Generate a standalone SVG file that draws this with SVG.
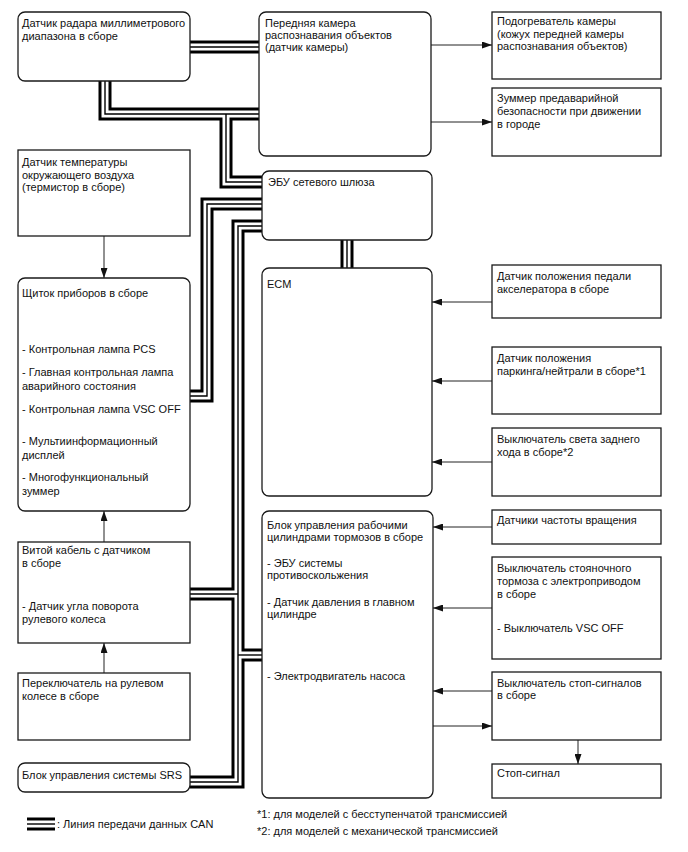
<svg xmlns="http://www.w3.org/2000/svg" xmlns:xlink="http://www.w3.org/1999/xlink" width="688" height="852" viewBox="0 0 688 852">
<style>
.box{fill:#fff;stroke:#1a1a1a;stroke-width:1.3}
.t{font-family:"Liberation Sans",Arial,sans-serif;font-size:11px;fill:#111}
.co{fill:none;stroke:#000;stroke-width:13;stroke-linejoin:miter}
.cw{fill:none;stroke:#fff;stroke-width:7;stroke-linejoin:miter}
.ci{fill:none;stroke:#000;stroke-width:1.4;stroke-linejoin:miter}
.arr{fill:none;stroke:#222;stroke-width:1;marker-end:url(#ah)}
</style>
<defs>
<marker id="ah" markerUnits="userSpaceOnUse" markerWidth="10" markerHeight="7" refX="10" refY="3.5" orient="auto">
<path d="M0,0 L10,3.5 L0,7 z" fill="#111"/>
</marker>
<path id="b1" d="M190,47 H259"/>
<path id="b2" d="M105,81 V114 H259"/>
<path id="b3" d="M226,114 V182 H262"/>
<path id="b4" d="M262,204 H207 V396 H190"/>
<path id="b5" d="M262,226 H238 V782 H190"/>
<path id="b6" d="M238,594 H190"/>
<path id="b7" d="M238,655 H262"/>
<path id="b8" d="M347,240 V268"/>
<path id="b9" d="M27,824 H55"/>
</defs>

<g id="connectors">
<g class="co">
<use xlink:href="#b1"/><use xlink:href="#b2"/><use xlink:href="#b3"/><use xlink:href="#b4"/><use xlink:href="#b5"/><use xlink:href="#b6"/><use xlink:href="#b7"/><use xlink:href="#b8"/><use xlink:href="#b9"/>
</g>
<g class="cw">
<use xlink:href="#b1"/><use xlink:href="#b2"/><use xlink:href="#b3"/><use xlink:href="#b4"/><use xlink:href="#b5"/><use xlink:href="#b6"/><use xlink:href="#b7"/><use xlink:href="#b8"/><use xlink:href="#b9"/>
</g>
<g class="ci">
<use xlink:href="#b1"/><use xlink:href="#b2"/><use xlink:href="#b3"/><use xlink:href="#b4"/><use xlink:href="#b5"/><use xlink:href="#b6"/><use xlink:href="#b7"/><use xlink:href="#b8"/><use xlink:href="#b9"/>
</g>
<path class="arr" d="M431,45 H492"/>
<path class="arr" d="M431,122 H492"/>
<path class="arr" d="M492,302 H432"/>
<path class="arr" d="M492,381 H432"/>
<path class="arr" d="M492,462 H432"/>
<path class="arr" d="M492,527 H433"/>
<path class="arr" d="M492,608 H433"/>
<path class="arr" d="M492,691 H433"/>
<path class="arr" d="M433,726 H492"/>
<path class="arr" d="M578,740 V764"/>
<path class="arr" d="M104,236 V278"/>
<path class="arr" d="M104,542 V511"/>
<path class="arr" d="M104,673 V643"/>
</g>

<g id="radar">
<rect class="box" x="18" y="12" width="172" height="69" rx="7"/>
<text class="t" x="22" y="27">Датчик радара миллиметрового</text>
<text class="t" x="22" y="40">диапазона в сборе</text>
</g>
<g id="temp">
<rect class="box" x="18" y="150" width="172" height="86"/>
<text class="t" x="22" y="166">Датчик температуры</text>
<text class="t" x="22" y="178.5">окружающего воздуха</text>
<text class="t" x="22" y="191">(термистор в сборе)</text>
</g>
<g id="cluster">
<rect class="box" x="18" y="278" width="172" height="233" rx="7"/>
<text class="t" x="22" y="297">Щиток приборов в сборе</text>
<text class="t" x="22" y="353">- Контрольная лампа PCS</text>
<text class="t" x="22" y="376">- Главная контрольная лампа</text>
<text class="t" x="22" y="390">аварийного состояния</text>
<text class="t" x="22" y="413">- Контрольная лампа VSC OFF</text>
<text class="t" x="22" y="445">- Мультиинформационный</text>
<text class="t" x="22" y="459">дисплей</text>
<text class="t" x="22" y="481">- Многофункциональный</text>
<text class="t" x="22" y="495">зуммер</text>
</g>
<g id="spiral">
<rect class="box" x="18" y="542" width="172" height="101"/>
<text class="t" x="22" y="554">Витой кабель с датчиком</text>
<text class="t" x="22" y="567">в сборе</text>
<text class="t" x="22" y="610">- Датчик угла поворота</text>
<text class="t" x="22" y="623">рулевого колеса</text>
</g>
<g id="steering">
<rect class="box" x="18" y="673" width="172" height="67"/>
<text class="t" x="22" y="687">Переключатель на рулевом</text>
<text class="t" x="22" y="700">колесе в сборе</text>
</g>
<g id="srs">
<rect class="box" x="18" y="763" width="172" height="29" rx="7"/>
<text class="t" x="22" y="779">Блок управления системы SRS</text>
</g>

<g id="camera">
<rect class="box" x="259" y="12" width="172" height="144" rx="7"/>
<text class="t" x="265" y="27">Передняя камера</text>
<text class="t" x="265" y="39">распознавания объектов</text>
<text class="t" x="265" y="51">(датчик камеры)</text>
</g>
<g id="gateway">
<rect class="box" x="262" y="171" width="170" height="69" rx="7"/>
<text class="t" x="268" y="186">ЭБУ сетевого шлюза</text>
</g>
<g id="ecm">
<rect class="box" x="262" y="268" width="170" height="228" rx="7"/>
<text class="t" x="267" y="288">ECM</text>
</g>
<g id="brake">
<rect class="box" x="262" y="511" width="171" height="287" rx="7"/>
<text class="t" x="267" y="529">Блок управления рабочими</text>
<text class="t" x="267" y="541">цилиндрами тормозов в сборе</text>
<text class="t" x="267" y="567">- ЭБУ системы</text>
<text class="t" x="267" y="579">противоскольжения</text>
<text class="t" x="267" y="606">- Датчик давления в главном</text>
<text class="t" x="267" y="618">цилиндре</text>
<text class="t" x="267" y="680">- Электродвигатель насоса</text>
</g>

<g id="heater">
<rect class="box" x="492" y="12" width="169" height="67"/>
<text class="t" x="497" y="25">Подогреватель камеры</text>
<text class="t" x="497" y="37.5">(кожух передней камеры</text>
<text class="t" x="497" y="50">распознавания объектов)</text>
</g>
<g id="buzzer">
<rect class="box" x="492" y="88" width="169" height="68"/>
<text class="t" x="497" y="102">Зуммер предаварийной</text>
<text class="t" x="497" y="115">безопасности при движении</text>
<text class="t" x="497" y="128">в городе</text>
</g>
<g id="accel">
<rect class="box" x="492" y="265" width="169" height="53"/>
<text class="t" x="497" y="280">Датчик положения педали</text>
<text class="t" x="497" y="293">акселератора в сборе</text>
</g>
<g id="park">
<rect class="box" x="492" y="347" width="169" height="67"/>
<text class="t" x="497" y="362">Датчик положения</text>
<text class="t" x="497" y="375">паркинга/нейтрали в сборе*1</text>
</g>
<g id="reverse">
<rect class="box" x="492" y="428" width="169" height="68"/>
<text class="t" x="497" y="443">Выключатель света заднего</text>
<text class="t" x="497" y="456">хода в сборе*2</text>
</g>
<g id="speed">
<rect class="box" x="492" y="510" width="169" height="34"/>
<text class="t" x="497" y="524">Датчики частоты вращения</text>
</g>
<g id="pbrake">
<rect class="box" x="492" y="557" width="169" height="102"/>
<text class="t" x="497" y="572">Выключатель стояночного</text>
<text class="t" x="497" y="585">тормоза с электроприводом</text>
<text class="t" x="497" y="598">в сборе</text>
<text class="t" x="497" y="632">- Выключатель VSC OFF</text>
</g>
<g id="stopsw">
<rect class="box" x="492" y="672" width="169" height="68"/>
<text class="t" x="497" y="687">Выключатель стоп-сигналов</text>
<text class="t" x="497" y="699">в сборе</text>
</g>
<g id="stoplamp">
<rect class="box" x="492" y="764" width="169" height="34"/>
<text class="t" x="497" y="777">Стоп-сигнал</text>
</g>

<g id="legend">
<text class="t" x="57" y="828">: Линия передачи данных CAN</text>
<text class="t" x="257" y="818">*1: для моделей с бесступенчатой трансмиссией</text>
<text class="t" x="257" y="835">*2: для моделей с механической трансмиссией</text>
</g>
</svg>
